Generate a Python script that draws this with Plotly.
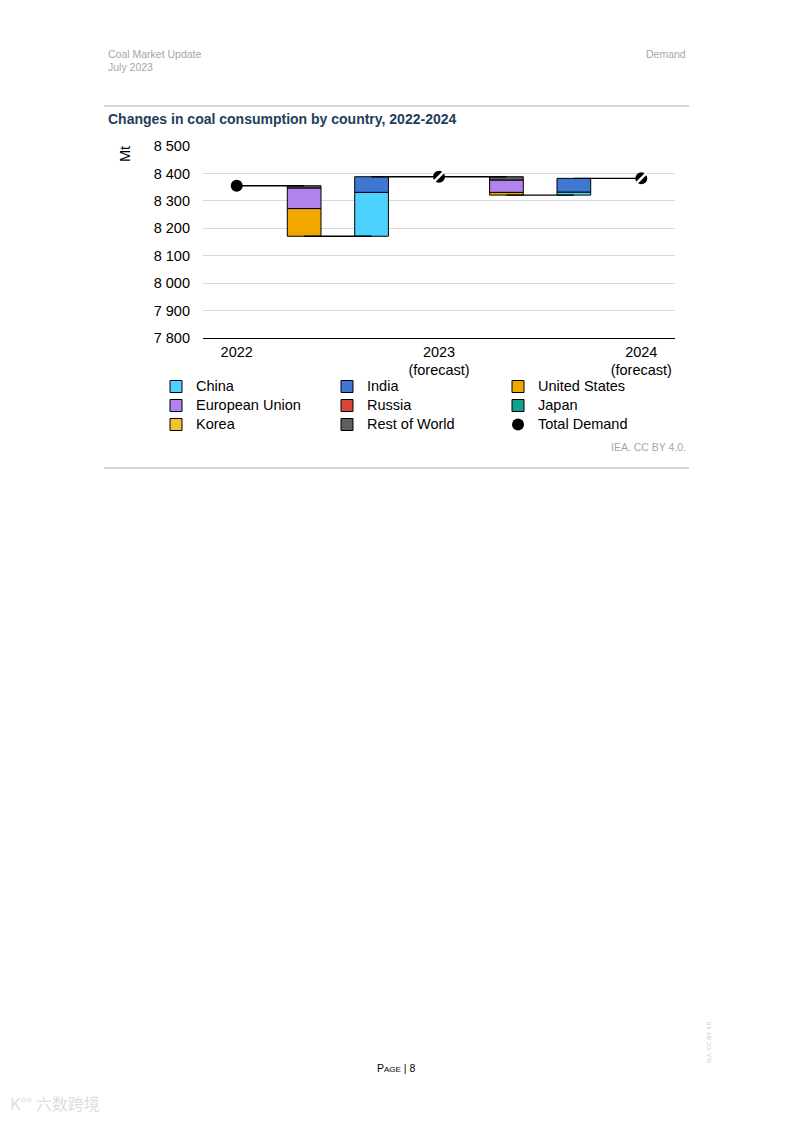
import plotly.graph_objects as go

# ---------------- data ----------------
countries = ["China", "India", "United States", "European Union",
             "Russia", "Japan", "Korea", "Rest of World"]
change_2023 = [160, 57, -101, -75, 0, 0, 0, -8]   # Mt, 2022 -> 2023
change_2024 = [11, 50, -10, -45, 0, 0, 0, -12]    # Mt, 2023 -> 2024
total_2022 = 8355
year_labels = ["2022", "2023<br>(forecast)", "2024<br>(forecast)"]

# ---------------- style ----------------
colors = ["#4DD2FF", "#3F78D2", "#F0A800", "#B083EE",
          "#D8453B", "#15A08C", "#F2C230", "#5F5F5F"]
FONT = "Liberation Sans, Arial, sans-serif"
OFF = 8                       # page body margin
W, H = 793 - 2 * OFF, 1122 - 2 * OFF
PLOT_X0, PLOT_X1 = 203, 675   # page pixels
PLOT_Y0, PLOT_Y1 = 146, 338
L = PLOT_X0 - OFF
R = W - (PLOT_X1 - OFF)
T = PLOT_Y0 - OFF
B = H - (PLOT_Y1 - OFF)
PW, PH = W - L - R, H - T - B


def px(x):
    return (x - OFF - L) / PW


def py(y):
    return (H - B - (y - OFF)) / PH


# ---------------- derived waterfall levels ----------------
total_2023 = total_2022 + sum(change_2023)
total_2024 = total_2023 + sum(change_2024)
low_2023 = total_2022 + sum(c for c in change_2023 if c < 0)
low_2024 = total_2023 + sum(c for c in change_2024 if c < 0)
bar_x = [1, 2, 4, 5]
bar_low = [low_2023, low_2023, low_2024, low_2024]

fig = go.Figure()

running = list(bar_low)
legend_ids = ["legend", "legend2", "legend3"]
for i, name in enumerate(countries):
    c23, c24 = change_2023[i], change_2024[i]
    heights = [max(-c23, 0), max(c23, 0), max(-c24, 0), max(c24, 0)]
    ys, bases = [], []
    for k, h in enumerate(heights):
        bases.append(running[k])
        ys.append(h if h > 0 else None)
        running[k] += h
    fig.add_trace(go.Bar(
        x=bar_x, y=ys, base=bases,
        name=f'<span style="font-size:14.5px">{name}</span>',
        marker=dict(color=colors[i], line=dict(color="black", width=1)),
        width=0.5, legend=legend_ids[i % 3],
    ))

# connectors
cx = [0, 1, None, 1, 2, None, 2, 3, None, 3, 4, None, 4, 5, None, 5, 6]
cy = [total_2022, total_2022, None, low_2023, low_2023, None,
      total_2023, total_2023, None, total_2023, total_2023, None,
      low_2024, low_2024, None, total_2024, total_2024]
fig.add_trace(go.Scatter(x=cx, y=cy, mode="lines",
                         line=dict(color="black", width=1.4),
                         showlegend=False, hoverinfo="skip"))

fig.add_trace(go.Scatter(
    x=[0, 3, 6], y=[total_2022, total_2023, total_2024], mode="markers",
    marker=dict(color="black", size=12, symbol="circle"),
    name='<span style="font-size:14.5px">Total Demand</span>', legend="legend3"))
fig.add_trace(go.Scatter(
    x=[3, 6], y=[total_2023, total_2024], mode="markers",
    marker=dict(symbol="line-ne", size=10, line=dict(color="white", width=2.5)),
    showlegend=False, hoverinfo="skip"))

leg_common = dict(font=dict(family=FONT, size=12, color="black"),
                  bgcolor="rgba(0,0,0,0)", borderwidth=0,
                  xanchor="left", yanchor="top", orientation="v",
                  traceorder="normal", itemclick=False)

fig.update_layout(
    width=W, height=H,
    margin=dict(l=L, r=R, t=T, b=B),
    paper_bgcolor="white", plot_bgcolor="white",
    separators=". ",
    barmode="overlay",
    showlegend=True,
    font=dict(family=FONT, color="black"),
    xaxis=dict(range=[-0.5, 6.5], tickvals=[0, 3, 6], ticktext=year_labels,
               showgrid=False, zeroline=False, showline=True,
               linecolor="black", linewidth=1.2, ticks="",
               tickfont=dict(family=FONT, size=14.5, color="black")),
    yaxis=dict(range=[7800, 8500], dtick=100, tickformat=",d",
               showgrid=True, gridcolor="#D9D9D9", gridwidth=1,
               zeroline=False, showline=False, ticks="",
               ticklabelstandoff=12,
               tickfont=dict(family=FONT, size=14.5, color="black")),
    legend=dict(x=px(156), y=py(372), **leg_common),
    legend2=dict(x=px(327), y=py(372), **leg_common),
    legend3=dict(x=px(498), y=py(372), **leg_common),
)

grey = "#A6A6A6"
annos = [
    dict(x=px(106), y=py(54), text="Coal Market Update", xanchor="left",
         font=dict(size=10.5, color=grey)),
    dict(x=px(106), y=py(67), text="July 2023", xanchor="left",
         font=dict(size=10.5, color=grey)),
    dict(x=px(688), y=py(54), text="Demand", xanchor="right",
         font=dict(size=10.5, color=grey)),
    dict(x=px(106), y=py(119), text="<b>Changes in coal consumption by country, 2022-2024</b>",
         xanchor="left", font=dict(size=14, color="#1F3D5C")),
    dict(x=px(125), y=py(154), text="Mt", textangle=-90, xanchor="center",
         font=dict(size=14.5, color="black")),
    dict(x=px(688), y=py(447), text="IEA. CC BY 4.0.", xanchor="right",
         font=dict(size=10.5, color=grey)),
    dict(x=px(396), y=py(1068), text='P<span style="font-size:8px">AGE</span> | 8',
         xanchor="center", font=dict(size=10.5, color="black")),
    dict(x=px(709), y=py(1042), text="IEA. CC BY 4.0.", textangle=-90,
         xanchor="center", font=dict(size=6, color="#C8C8C8")),
    dict(x=px(8), y=py(1103), text="K°° 六数跨境", xanchor="left",
         font=dict(family="Noto Sans CJK SC", size=16, color="#DDDDDD")),
]
for a in annos:
    a.setdefault("xref", "paper")
    a.setdefault("yref", "paper")
    a.setdefault("showarrow", False)
    a["yanchor"] = "middle"
    a["font"].setdefault("family", FONT)
fig.update_layout(annotations=annos)

rule = "#9FB1C4"
fig.update_layout(shapes=[
    dict(type="line", xref="paper", yref="paper", x0=px(104), x1=px(689),
         y0=py(106), y1=py(106), line=dict(color=rule, width=1)),
    dict(type="line", xref="paper", yref="paper", x0=px(104), x1=px(689),
         y0=py(468), y1=py(468), line=dict(color=rule, width=1)),
])

fig.write_html("out.html")
